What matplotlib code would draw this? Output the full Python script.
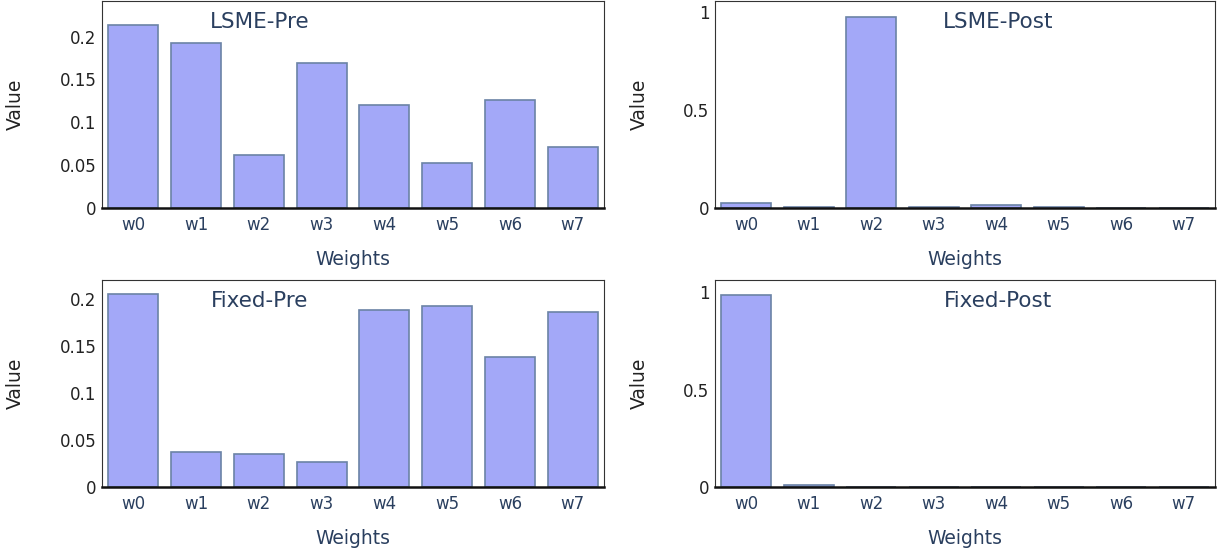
import matplotlib
matplotlib.use('Agg')
import matplotlib.pyplot as plt

labels = ['w0', 'w1', 'w2', 'w3', 'w4', 'w5', 'w6', 'w7']

lsme_pre = [0.2136, 0.1923, 0.0618, 0.169, 0.120, 0.0524, 0.126, 0.0711]
lsme_post = [0.027, 0.003, 0.97, 0.003, 0.014, 0.003, 0.002, 0.002]
fixed_pre = [0.205, 0.0369, 0.0345, 0.0266, 0.1877, 0.1922, 0.1377, 0.186]
fixed_post = [0.985, 0.008, 0.002, 0.002, 0.002, 0.002, 0.002, 0.002]

W, H = 1225, 554
fill = '#a3a8f8'
edge = '#6b83a6'
label_col = '#2a3f5f'


def box(x0, y0, x1, y1):
    # pixel box -> figure fraction
    return [x0 / W, 1 - y1 / H, (x1 - x0) / W, (y1 - y0) / H]


def panel(fig, rect, values, title, top, yticks, yticklabels, title_x):
    ax = fig.add_axes(rect)
    ax.bar(range(len(labels)), values, width=0.8, color=fill,
           edgecolor=edge, linewidth=1.2)
    ax.set_xlim(-0.5, 7.5)
    ax.set_ylim(0, top)
    ax.set_xticks(range(len(labels)))
    ax.set_xticklabels(labels, color=label_col, fontsize=12)
    ax.set_yticks(yticks)
    ax.set_yticklabels(yticklabels, fontsize=12, color='#222222')
    ax.tick_params(length=0, pad=4)
    ax.tick_params(axis='x', pad=6)
    for side in ['left', 'top', 'right']:
        ax.spines[side].set_linewidth(0.8)
        ax.spines[side].set_color('#333333')
    ax.spines['bottom'].set_linewidth(1.8)
    ax.spines['bottom'].set_color('#111111')
    ax.set_xlabel('Weights', color=label_col, fontsize=13.5, labelpad=11)
    ax.set_ylabel('Value', fontsize=13.5, color='#222222', labelpad=25)
    ax.text(title_x, 0.9, title, transform=ax.transAxes, ha='center',
            va='center', color=label_col, fontsize=15.5)
    return ax


fig = plt.figure(figsize=(W / 100, H / 100), dpi=100)
plt.rcParams['font.family'] = ['DejaVu Sans']

small = [0, 0.05, 0.1, 0.15, 0.2]
small_lbl = ['0', '0.05', '0.1', '0.15', '0.2']
big = [0, 0.5, 1]
big_lbl = ['0', '0.5', '1']

panel(fig, box(102, 1, 604, 208), lsme_pre, 'LSME-Pre', 0.2416,
      small, small_lbl, 0.314)
panel(fig, box(715, 1, 1215, 208), lsme_post, 'LSME-Post', 1.054,
      big, big_lbl, 0.566)
panel(fig, box(102, 280, 604, 487), fixed_pre, 'Fixed-Pre', 0.2197,
      small, small_lbl, 0.314)
panel(fig, box(715, 280, 1215, 487), fixed_post, 'Fixed-Post', 1.062,
      big, big_lbl, 0.566)

fig.savefig('out.png', dpi=100)
